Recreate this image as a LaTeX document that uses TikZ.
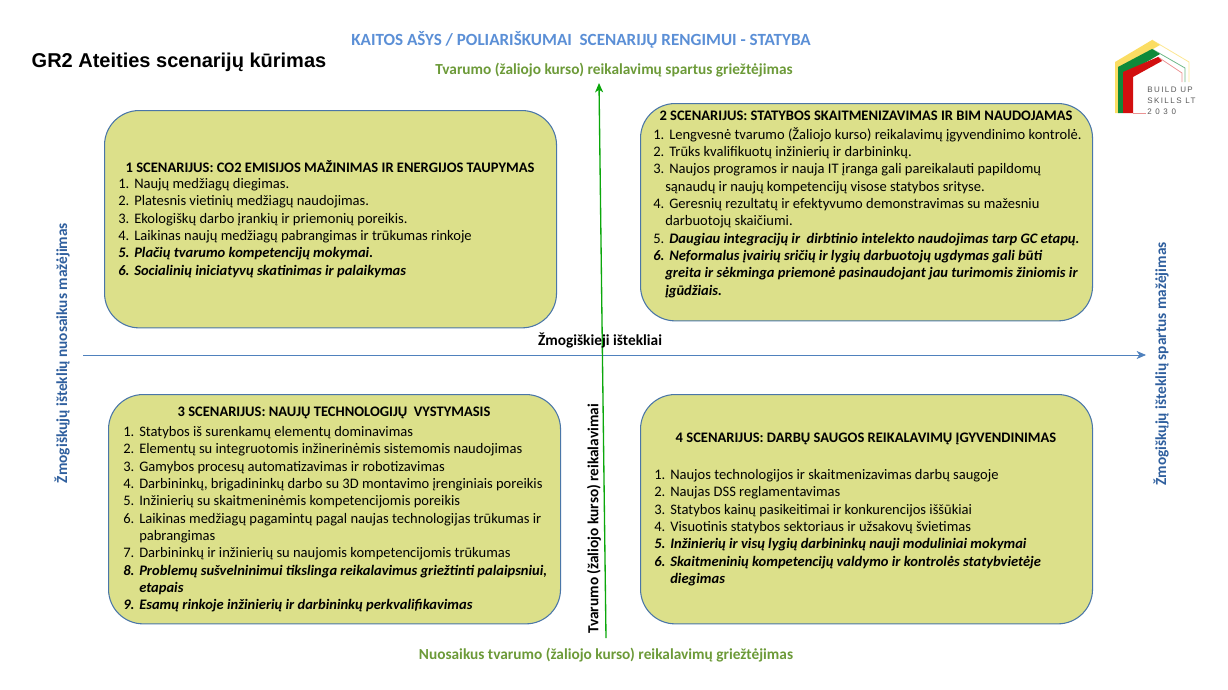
\documentclass[tikz,border=0pt]{standalone}
\usepackage{fontspec}
\setmainfont{Carlito}
\newfontfamily\titlefont{Liberation Sans}
\newfontfamily\logofont[LetterSpace=18]{Liberation Sans}
\usetikzlibrary{arrows.meta}
\definecolor{boxfill}{HTML}{DCE08A}
\definecolor{boxline}{HTML}{4A76A8}
\definecolor{axisblue}{HTML}{4F81BD}
\definecolor{headblue}{HTML}{5B8FD6}
\definecolor{axisgreen}{HTML}{0BA70B}
\definecolor{labelgreen}{HTML}{6C9A38}
\definecolor{sideblue}{HTML}{2F5F9E}
\definecolor{logoyellow}{HTML}{FBDD63}
\definecolor{logogreen}{HTML}{0F8A3A}
\definecolor{logored}{HTML}{D20F0F}
\tikzset{
	scenbox/.style={draw=boxline, fill=boxfill, line width=0.8pt, rounded corners=26pt, inner sep=0pt, anchor=north west},
	scenhead/.style={font=\fontsize{10.9}{13}\selectfont\bfseries, inner sep=0pt},
	scenlist/.style={font=\fontsize{10.9}{13}\selectfont, align=left, anchor=north west, inner sep=0pt},
	axislabel/.style={font=\fontsize{11.5}{13}\selectfont\bfseries, inner sep=0pt},
}
\newcommand{\itm}[1]{\makebox[12pt][l]{#1}}
\newcommand{\bitm}[1]{\makebox[12pt][l]{\bfseries\itshape #1}\bfseries\itshape}
\begin{document}
\begin{tikzpicture}[x=0.75pt,y=-0.75pt]
	\useasboundingbox (0,0) rectangle (1228,689);
	% scenario boxes
	\node [scenbox, minimum width=339pt, minimum height=163pt] (box1) at (104,110) {};
	\node [scenbox, minimum width=339pt, minimum height=163pt] (box2) at (640,103) {};
	\node [scenbox, minimum width=339pt, minimum height=172pt] (box3) at (108,394) {};
	\node [scenbox, minimum width=339pt, minimum height=172pt] (box4) at (640,394) {};
	% axes
	\coordinate (left) at (83,355);
	\coordinate (right) at (1146,355);
	\coordinate (bottom) at (606,638);
	\coordinate (top) at (599,83);
	\draw [axisblue, line width=0.6pt, -{Stealth[length=7pt,width=6pt,inset=2pt]}] (left) -- (right);
	\draw [axisgreen, line width=1pt, -{Stealth[length=7pt,width=6pt,inset=2pt]}] (bottom) -- (top);
	% headings
	\node [inner sep=0pt, font=\fontsize{15}{17}\selectfont\titlefont\bfseries] (title) at (179,62) {GR2 Ateities scenarijų kūrimas};
	\node [inner sep=0pt, text=headblue, font=\fontsize{12.8}{15}\selectfont\bfseries] (head) at (581,40) {KAITOS AŠYS / POLIARIŠKUMAI\ \ SCENARIJŲ RENGIMUI - STATYBA};
	\node [axislabel, text=labelgreen] (greentop) at (614,70) {Tvarumo (žaliojo kurso) reikalavimų spartus griežtėjimas};
	\node [axislabel, text=labelgreen] (greenbot) at (606,655) {Nuosaikus tvarumo (žaliojo kurso) reikalavimų griežtėjimas};
	\node [axislabel, text=sideblue, rotate=90] (sideleft) at (62,353) {Žmogiškųjų išteklių nuosaikus mažėjimas};
	\node [axislabel, text=sideblue, rotate=90] (sideright) at (1161,364) {Žmogiškųjų išteklių spartus mažėjimas};
	\node [axislabel, rotate=90] (midgreen) at (594,519) {Tvarumo (žaliojo kurso) reikalavimai};
	\node [axislabel] (midblue) at (600,340) {Žmogiškieji ištekliai};
	% box 1
	\node [scenhead] (head1) at (330,167) {1 SCENARIJUS: CO2 EMISIJOS MAŽINIMAS IR ENERGIJOS TAUPYMAS};
	\node [scenlist] (list1) at (118,178) {
		\itm{1.}Naujų medžiagų diegimas.\\
		\itm{2.}Platesnis vietinių medžiagų naudojimas.\\
		\itm{3.}Ekologiškų darbo įrankių ir priemonių poreikis.\\
		\itm{4.}Laikinas naujų medžiagų pabrangimas ir trūkumas rinkoje\\
		\bitm{5.}Plačių tvarumo kompetencijų mokymai.\\
		\bitm{6.}Socialinių iniciatyvų skatinimas ir palaikymas};
	% box 2
	\node [scenhead] (head2) at (866,116) {2 SCENARIJUS: STATYBOS SKAITMENIZAVIMAS IR BIM NAUDOJAMAS};
	\node [scenlist] (list2) at (653,127) {
		\itm{1.}Lengvesnė tvarumo (Žaliojo kurso) reikalavimų įgyvendinimo kontrolė.\\
		\itm{2.}Trūks kvalifikuotų inžinierių ir darbininkų.\\
		\itm{3.}Naujos programos ir nauja IT įranga gali pareikalauti papildomų\\
		\hspace*{9pt}sąnaudų ir naujų kompetencijų visose statybos srityse.\\
		\itm{4.}Geresnių rezultatų ir efektyvumo demonstravimas su mažesniu\\
		\hspace*{9pt}darbuotojų skaičiumi.\\
		\itm{5.}{\bfseries\itshape Daugiau integracijų ir\ \ dirbtinio intelekto naudojimas tarp GC etapų.}\\
		\bitm{6.}Neformalus įvairių sričių ir lygių darbuotojų ugdymas gali būti\\
		\hspace*{9pt}{\bfseries\itshape greita ir sėkminga priemonė pasinaudojant jau turimomis žiniomis ir}\\
		\hspace*{9pt}{\bfseries\itshape įgūdžiais.}};
	% box 3
	\node [scenhead] (head3) at (334,413) {3 SCENARIJUS: NAUJŲ TECHNOLOGIJŲ\ \ VYSTYMASIS};
	\node [scenlist] (list3) at (123,426) {
		\itm{1.}Statybos iš surenkamų elementų dominavimas\\
		\itm{2.}Elementų su integruotomis inžinerinėmis sistemomis naudojimas\\
		\itm{3.}Gamybos procesų automatizavimas ir robotizavimas\\
		\itm{4.}Darbininkų, brigadininkų darbo su 3D montavimo įrenginiais poreikis\\
		\itm{5.}Inžinierių su skaitmeninėmis kompetencijomis poreikis\\
		\itm{6.}Laikinas medžiagų pagamintų pagal naujas technologijas trūkumas ir\\
		\itm{}pabrangimas\\
		\itm{7.}Darbininkų ir inžinierių su naujomis kompetencijomis trūkumas\\
		\bitm{8.}Problemų sušvelninimui tikslinga reikalavimus griežtinti palaipsniui,\\
		\itm{}{\bfseries\itshape etapais}\\
		\bitm{9.}Esamų rinkoje inžinierių ir darbininkų perkvalifikavimas};
	% box 4
	\node [scenhead] (head4) at (866,439) {4 SCENARIJUS: DARBŲ SAUGOS REIKALAVIMŲ ĮGYVENDINIMAS};
	\node [scenlist] (list4) at (654,469) {
		\itm{1.}Naujos technologijos ir skaitmenizavimas darbų saugoje\\
		\itm{2.}Naujas DSS reglamentavimas\\
		\itm{3.}Statybos kainų pasikeitimai ir konkurencijos iššūkiai\\
		\itm{4.}Visuotinis statybos sektoriaus ir užsakovų švietimas\\
		\bitm{5.}Inžinierių ir visų lygių darbininkų nauji moduliniai mokymai\\
		\bitm{6.}Skaitmeninių kompetencijų valdymo ir kontrolės statybvietėje\\
		\itm{}{\bfseries\itshape diegimas}};
	% logo
	\draw [logoyellow!70, line width=0.6pt] (1152,40) -- (1189,62) -- (1189,82);
	\draw [logogreen!60, line width=0.6pt] (1152,49) -- (1185,68) -- (1185,82);
	\draw [logored!45, line width=0.6pt] (1158,57) -- (1182,73) -- (1182,82);
	\draw [logored!45, line width=0.6pt] (1133,113) -- (1146,113);
	\fill [logoyellow] (1115,113) -- (1115,62) -- (1152,40) -- (1160,45) -- (1118,69) -- (1118,113);
	\fill [logogreen] (1118,113) -- (1118,67) -- (1152,49) -- (1160,54) -- (1123,76) -- (1123,113);
	\fill [logored] (1123,113) -- (1123,72) -- (1158,57) -- (1162,61) -- (1133,77) -- (1133,113);
	\node [inner sep=0pt, anchor=west, align=left, text=black!65, font=\fontsize{6}{8.4}\selectfont\logofont] (logotext) at (1147,101) {BUILD UP\\SKILLS LT\\2 0 3 0};
\end{tikzpicture}
\end{document}
